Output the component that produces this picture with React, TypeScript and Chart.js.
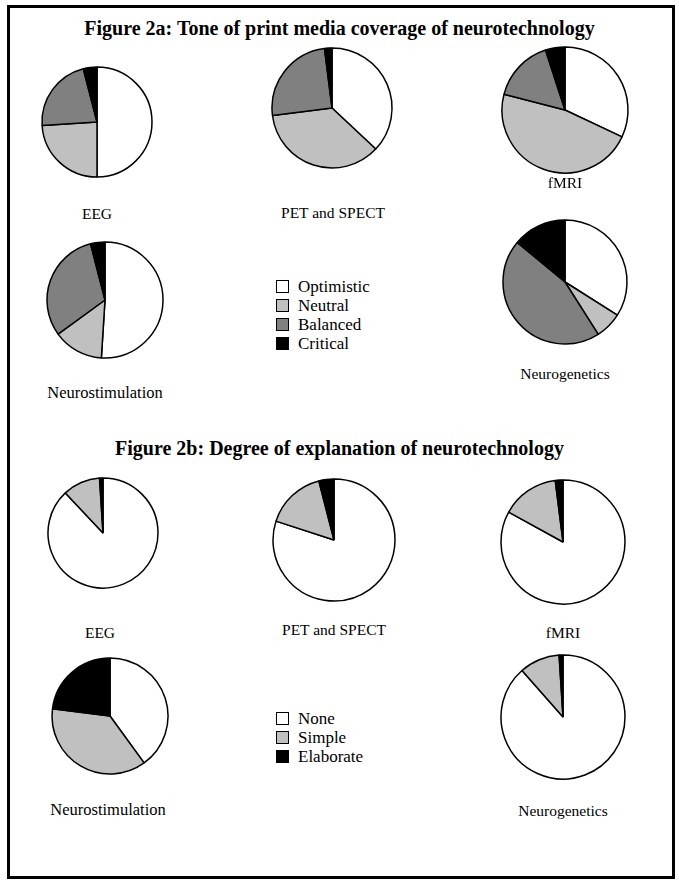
import React, { useEffect, useRef } from "react";
import { Chart, registerables } from "chart.js";

Chart.register(...registerables);

// Figure 2a: tone categories
const toneCategories = ["Optimistic", "Neutral", "Balanced", "Critical"];
const toneColors = ["#ffffff", "#c0c0c0", "#808080", "#000000"];
const toneEEG = [50, 24, 22, 4];
const tonePET = [37, 36, 25, 2];
const toneFMRI = [32, 47, 16, 5];
const toneNeurostim = [51, 14, 31, 4];
const toneNeurogen = [34, 7, 45, 14];

// Figure 2b: explanation categories
const explCategories = ["None", "Simple", "Elaborate"];
const explColors = ["#ffffff", "#c0c0c0", "#000000"];
const explEEG = [88, 11, 1];
const explPET = [80, 16, 4];
const explFMRI = [83, 15, 2];
const explNeurostim = [40, 37, 23];
const explNeurogen = [88.5, 10.5, 1];

const SERIF = '"Liberation Serif", "Times New Roman", Times, serif';

type PieProps = {
  cx: number;
  cy: number;
  r: number;
  labels: string[];
  values: number[];
  colors: string[];
};

function Pie({ cx, cy, r, labels, values, colors }: PieProps) {
  const ref = useRef<HTMLCanvasElement | null>(null);
  const size = Math.ceil(2 * r + 6);
  useEffect(() => {
    if (!ref.current) return;
    const chart = new Chart(ref.current, {
      type: "pie",
      data: {
        labels,
        datasets: [
          {
            data: values,
            backgroundColor: colors,
            borderColor: "#000000",
            borderWidth: 1.5,
          },
        ],
      },
      options: {
        animation: false,
        responsive: false,
        maintainAspectRatio: false,
        radius: r,
        layout: { padding: 0 },
        plugins: { legend: { display: false }, tooltip: { enabled: false } },
        events: [],
      },
    });
    return () => chart.destroy();
  }, []);
  return (
    <canvas
      ref={ref}
      width={size}
      height={size}
      style={{
        position: "absolute",
        left: cx - size / 2,
        top: cy - size / 2,
        width: size,
        height: size,
      }}
    />
  );
}

function Label({ x, y, text, size = 15.5 }: { x: number; y: number; text: string; size?: number }) {
  return (
    <div
      style={{
        position: "absolute",
        left: x - 150,
        top: y - 10,
        width: 300,
        textAlign: "center",
        fontFamily: SERIF,
        fontSize: size,
        lineHeight: "20px",
        whiteSpace: "nowrap",
      }}
    >
      {text}
    </div>
  );
}

function Legend({ x, y, labels, colors }: { x: number; y: number; labels: string[]; colors: string[] }) {
  return (
    <div style={{ position: "absolute", left: x, top: y }}>
      {labels.map((l, i) => (
        <div
          key={l}
          style={{
            display: "flex",
            alignItems: "center",
            height: 19,
            fontFamily: SERIF,
            fontSize: 17,
          }}
        >
          <span
            style={{
              display: "inline-block",
              width: 11,
              height: 11,
              border: "1.2px solid #000",
              background: colors[i],
              marginRight: 9,
            }}
          />
          <span>{l}</span>
        </div>
      ))}
    </div>
  );
}

function Title({ y, text }: { y: number; text: string }) {
  return (
    <div
      style={{
        position: "absolute",
        left: 0,
        top: y - 12,
        width: 679,
        textAlign: "center",
        fontFamily: SERIF,
        fontWeight: "bold",
        fontSize: 20,
        lineHeight: "24px",
        whiteSpace: "nowrap",
      }}
    >
      {text}
    </div>
  );
}

export default function App() {
  return (
    <div
      style={{
        position: "absolute",
        left: 0,
        top: 0,
        width: 679,
        height: 882,
        background: "#fff",
        overflow: "hidden",
      }}
    >
      <div
        style={{
          position: "absolute",
          left: 7,
          top: 5,
          width: 662,
          height: 868,
          border: "3px solid #000",
        }}
      />
      <Title y={28} text="Figure 2a: Tone of print media coverage of neurotechnology" />
      <Pie cx={97} cy={122} r={55} labels={toneCategories} values={toneEEG} colors={toneColors} />
      <Pie cx={332} cy={108} r={60} labels={toneCategories} values={tonePET} colors={toneColors} />
      <Pie cx={565} cy={110} r={63} labels={toneCategories} values={toneFMRI} colors={toneColors} />
      <Pie cx={105} cy={300} r={58} labels={toneCategories} values={toneNeurostim} colors={toneColors} />
      <Pie cx={565} cy={282} r={62} labels={toneCategories} values={toneNeurogen} colors={toneColors} />
      <Label x={97} y={214} text="EEG" />
      <Label x={333} y={213} text="PET and SPECT" />
      <Label x={565} y={183} text="fMRI" />
      <Label x={105} y={393} text="Neurostimulation" size={16.5} />
      <Label x={565} y={374} text="Neurogenetics" />
      <Legend x={276} y={277} labels={toneCategories} colors={toneColors} />

      <Title y={448} text="Figure 2b: Degree of explanation of neurotechnology" />
      <Pie cx={103} cy={533} r={55} labels={explCategories} values={explEEG} colors={explColors} />
      <Pie cx={334} cy={540} r={61} labels={explCategories} values={explPET} colors={explColors} />
      <Pie cx={563} cy={542} r={62} labels={explCategories} values={explFMRI} colors={explColors} />
      <Pie cx={110} cy={716} r={58} labels={explCategories} values={explNeurostim} colors={explColors} />
      <Pie cx={563} cy={717} r={62} labels={explCategories} values={explNeurogen} colors={explColors} />
      <Label x={100} y={633} text="EEG" />
      <Label x={334} y={630} text="PET and SPECT" />
      <Label x={563} y={633} text="fMRI" />
      <Label x={108} y={810} text="Neurostimulation" size={16.5} />
      <Label x={563} y={811} text="Neurogenetics" />
      <Legend x={276} y={709} labels={explCategories} colors={explColors} />
    </div>
  );
}
